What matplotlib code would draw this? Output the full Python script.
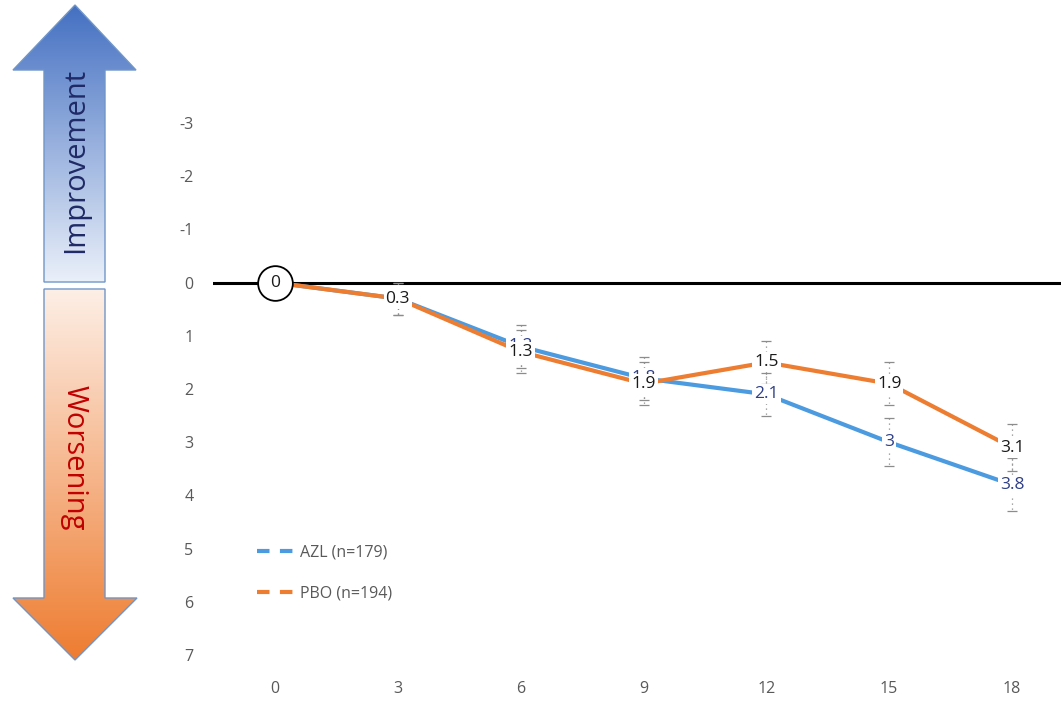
import numpy as np
import matplotlib
matplotlib.use("Agg")
import matplotlib.pyplot as plt
from matplotlib.patches import Polygon
from matplotlib.lines import Line2D
from matplotlib.colors import LinearSegmentedColormap

plt.rcParams['font.family'] = ['Open Sans', 'DejaVu Sans']

months = [0, 3, 6, 9, 12, 15, 18]
azl = [0, 0.3, 1.2, 1.8, 2.1, 3.0, 3.8]
pbo = [0, 0.3, 1.3, 1.9, 1.5, 1.9, 3.1]
azl_err = [0, 0.3, 0.4, 0.4, 0.4, 0.45, 0.5]
pbo_err = [0, 0.3, 0.4, 0.4, 0.4, 0.4, 0.45]
azl_name = "AZL (n=179)"
pbo_name = "PBO (n=194)"
yticks = list(range(-3, 8))

blue = '#4C9BE0'
orange = '#ED7D31'
grey = '#595959'

W, H = 1061, 701
fig = plt.figure(figsize=(W / 100, H / 100), dpi=100)

# background axes in pixel coordinates for the arrows
bg = fig.add_axes([0, 0, 1, 1])
bg.set_xlim(0, W)
bg.set_ylim(H, 0)
bg.axis('off')


def grad_arrow(pts, c_top, c_bot, y0, y1):
    poly = Polygon(pts, closed=True, facecolor='none', edgecolor='#7096C8', lw=1, zorder=3)
    bg.add_patch(poly)
    cmap = LinearSegmentedColormap.from_list('g', [c_top, c_bot])
    grad = np.linspace(0, 1, 256).reshape(-1, 1)
    im = bg.imshow(grad, cmap=cmap, extent=[0, 160, y1, y0], aspect='auto', zorder=2)
    im.set_clip_path(poly)


grad_arrow([(75, 5), (136, 70), (105, 70), (105, 282), (44, 282), (44, 70), (13, 70)],
           '#4470C2', '#EAF0F9', 5, 282)
grad_arrow([(44, 289), (105, 289), (105, 598), (137, 598), (75, 660), (13, 598), (44, 598)],
           '#FDEFE6', '#EE7C30', 289, 660)
bg.text(76, 160, 'Improvement', rotation=90, ha='center', va='center',
        fontsize=21, color='#1F2A66', zorder=4)
bg.text(74, 458, 'Worsening', rotation=-90, ha='center', va='center',
        fontsize=21, color='#C00000', zorder=4)

# main chart
x_left, x_right = 213, W
y_top, y_bot = 123, 655
ax = fig.add_axes([x_left / W, 1 - y_bot / H, (x_right - x_left) / W, (y_bot - y_top) / H])
ax.set_zorder(2)
ax.patch.set_visible(False)
px = (1012 - 275) / 18
ax.set_xlim(-62 / px, (W - 275) / px)
ax.set_ylim(7, -3)
for s in ax.spines.values():
    s.set_visible(False)
ax.set_xticks(months)
ax.set_xticklabels([str(m) for m in months])
ax.set_yticks(yticks)
ax.set_yticklabels([str(t) for t in yticks])
ax.tick_params(length=0, colors=grey, labelsize=11.5)
ax.tick_params(axis='x', pad=19)
ax.tick_params(axis='y', pad=14)

ax.axhline(0, color='black', lw=2.2, zorder=1)

for vals, err in [(azl, azl_err), (pbo, pbo_err)]:
    eb = ax.errorbar(months[1:], vals[1:], yerr=err[1:], fmt='none', ecolor='#8C8C8C',
                     elinewidth=0.9, capsize=3.5, capthick=0.9, zorder=2)
    eb[2][0].set_linestyle((0, (1, 3)))

ax.plot(months, azl, color=blue, lw=3, zorder=3, label=azl_name)
ax.plot(months, pbo, color=orange, lw=3, zorder=4, label=pbo_name)

box = dict(boxstyle='square,pad=0.12', fc='white', ec='none')
for m, v in zip(months[1:], azl[1:]):
    ax.text(m, v, f'{v:g}', ha='center', va='center', fontsize=12.5, color='#2E3F86',
            bbox=box, zorder=5)
for m, v in zip(months[1:], pbo[1:]):
    ax.text(m, v, f'{v:g}', ha='center', va='center', fontsize=12.5, color='#1A1A1A',
            bbox=box, zorder=6)

ax.plot([0], [0], 'o', ms=25, mfc='white', mec='black', mew=1.3, zorder=7)
ax.text(0, 0, '0', ha='center', va='center', fontsize=12.5, color='#1A1A1A', zorder=8)

handles = [Line2D([], [], color=blue, lw=3, ls=(0, (3, 2.5))),
           Line2D([], [], color=orange, lw=3, ls=(0, (3, 2.5)))]
fig.legend(handles, [azl_name, pbo_name], loc='upper left', bbox_to_anchor=(243 / W, 1 - 530 / H),
           frameon=False, fontsize=11.5, labelcolor=grey, handlelength=2.6, handletextpad=0.1,
           labelspacing=1.6)

fig.savefig('out.png', dpi=100)
